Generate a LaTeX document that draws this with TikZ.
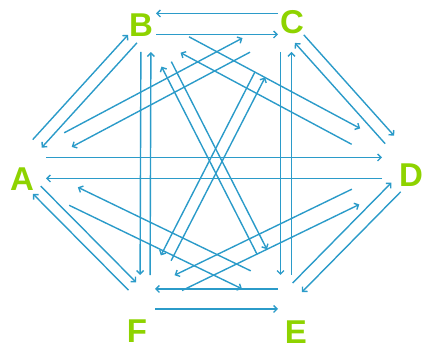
\documentclass[tikz,border=0pt]{standalone}
\usepackage{fontspec}
\setmainfont{Liberation Sans}
\usetikzlibrary{arrows.meta, calc}

\definecolor{lineblue}{HTML}{2B9BC9}
\definecolor{lettergreen}{HTML}{8ED300}

\begin{document}
\begin{tikzpicture}[
	  x=1pt, y=-1pt,
	  letter/.style={inner sep=0pt, text=lettergreen, font=\fontsize{33}{36}\selectfont\bfseries},
	  arrow/.style={draw=lineblue, line width=1.4pt, -{Straight Barb[length=3.5pt, width=7pt]}}
	]

	\useasboundingbox (0,0) rectangle (424,350);

	% corner points of the hexagon
	\coordinate (a) at (15,168);
	\coordinate (b) at (146,24);
	\coordinate (c) at (286,24);
	\coordinate (d) at (415,168);
	\coordinate (e) at (286,299);
	\coordinate (f) at (145,299);

	\node (A) [letter] at (22,179) {A};
	\node (B) [letter] at (141,25) {B};
	\node (C) [letter] at (292,22) {C};
	\node (D) [letter] at (411,175) {D};
	\node (E) [letter] at (296,332) {E};
	\node (F) [letter] at (137,331) {F};

	% two arrows for every pair, one on each side
	\foreach \u/\v/\o/\su/\sv in {
	    b/c/10.5pt/10pt/8pt, b/f/5pt/28pt/24pt, c/e/5.5pt/28pt/24pt,
	    f/e/10pt/10pt/8pt, a/d/-10.5pt/31pt/33pt, a/b/-6pt/33pt/20pt,
	    a/c/-8pt/60pt/45pt, a/e/10pt/65pt/44pt, a/f/-5.5pt/31pt/18pt,
	    b/d/-9pt/44pt/67pt, b/e/-5.5pt/45pt/53pt, c/d/-6pt/20pt/38pt,
	    c/f/5.75pt/57pt/46pt, d/e/-6.5pt/27pt/16pt, d/f/8.5pt/66pt/37pt} {
	  \draw [arrow, shorten <=\su, shorten >=\sv] ($(\u)!\o!-90:(\v)$) -- ($(\v)!\o!90:(\u)$);
	  \draw [arrow, shorten <=\sv, shorten >=\su] ($(\v)!\o!-90:(\u)$) -- ($(\u)!\o!90:(\v)$);
	}

\end{tikzpicture}
\end{document}
